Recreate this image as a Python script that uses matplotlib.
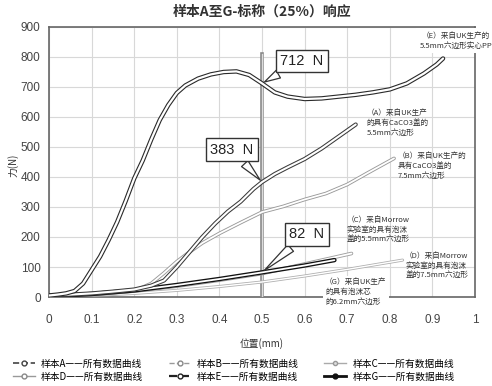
import matplotlib
matplotlib.use("Agg")
import matplotlib.pyplot as plt
from matplotlib.lines import Line2D

plt.rcParams['font.family'] = ['Noto Sans CJK SC', 'DejaVu Sans']

# 各样本的力-位置曲线
a_x = [0, 0.05, 0.1, 0.15, 0.2, 0.24, 0.27, 0.30, 0.33, 0.36, 0.39, 0.42, 0.45, 0.48, 0.50, 0.53, 0.56, 0.60, 0.64, 0.68, 0.72]
a_y = [5, 8, 12, 18, 25, 38, 55, 100, 150, 200, 245, 285, 318, 360, 383, 410, 432, 460, 495, 535, 575]

b_x = [0, 0.1, 0.2, 0.24, 0.27, 0.3, 0.33, 0.36, 0.4, 0.45, 0.5, 0.55, 0.6, 0.65, 0.7, 0.75, 0.81]
b_y = [3, 8, 20, 45, 80, 118, 150, 180, 212, 248, 283, 302, 325, 345, 375, 415, 462]

c_x = [0, 0.1, 0.2, 0.3, 0.4, 0.5, 0.6, 0.71]
c_y = [2, 8, 20, 36, 56, 78, 110, 145]

d_x = [0, 0.1, 0.2, 0.3, 0.4, 0.5, 0.6, 0.7, 0.83]
d_y = [2, 5, 12, 22, 35, 50, 70, 92, 123]

e_x = [0, 0.02, 0.04, 0.06, 0.08, 0.10, 0.12, 0.14, 0.16, 0.18, 0.20, 0.22, 0.24, 0.26, 0.28, 0.30,
       0.32, 0.35, 0.38, 0.41, 0.44, 0.47, 0.50, 0.53, 0.56, 0.60, 0.64, 0.68, 0.72, 0.76, 0.80,
       0.84, 0.88, 0.91, 0.925]
e_y = [5, 8, 12, 20, 45, 90, 135, 190, 250, 320, 395, 455, 525, 590, 640, 680,
       705, 728, 742, 750, 752, 740, 712, 682, 668, 660, 662, 668, 674, 682, 692,
       712, 745, 775, 795]

g_x = [0, 0.1, 0.2, 0.3, 0.4, 0.5, 0.6, 0.67]
g_y = [3, 10, 22, 40, 60, 82, 105, 123]

ref_x = 0.5
ref_top = 810

# 标注：文字，指向点，文字框位置
callouts = [
    ("712  N", (0.5, 712), (0.593, 787)),
    ("383  N", (0.5, 383), (0.429, 491)),
    ("82  N", (0.5, 82), (0.605, 209)),
]

curve_notes = [
    ("（A）来自UK生产\n的具有CaCO3盖的\n5.5mm六边形", 0.746, 580),
    ("（B）来自UK生产的\n具有CaCO3盖的\n7.5mm六边形", 0.819, 437),
    ("（C）来自Morrow\n实验室的具有泡沫\n盖的5.5mm六边形", 0.699, 223),
    ("（D）来自Morrow\n实验室的具有泡沫\n盖的7.5mm六边形", 0.836, 103),
]
note_e = "（E）来自UK生产的\n5.5mm六边形实心PP"
note_g = "（G）来自UK生产\n的具有泡沫芯\n的6.2mm六边形"

fig = plt.figure(figsize=(4.92, 3.86), dpi=100)
ax = fig.add_axes([49 / 492, 1 - 297 / 386, 426 / 492, 270 / 386])

def tube(x, y, edge, lw_out, lw_in, ls="-"):
    ax.plot(x, y, color=edge, lw=lw_out, ls=ls, solid_capstyle="round", zorder=4)
    ax.plot(x, y, color="white", lw=lw_in, solid_capstyle="round", zorder=4)

tube(d_x, d_y, "#b0b0b0", 2.2, 1.0)
tube(c_x, c_y, "#a0a0a0", 2.6, 1.3)
tube(b_x, b_y, "#9a9a9a", 2.6, 1.3)
tube(g_x, g_y, "#111111", 3.2, 1.3)
tube(a_x, a_y, "#3a3a3a", 3.0, 1.5)
tube(e_x, e_y, "#2a2a2a", 3.2, 1.6)

# 0.5mm 参考线
ax.plot([ref_x, ref_x], [0, ref_top], color="#888888", lw=2.6, zorder=3)
ax.plot([ref_x, ref_x], [0, ref_top], color="#dddddd", lw=1.0, zorder=3)

for txt, pt, pos in callouts:
    ax.annotate(txt, xy=pt, xytext=pos, ha="center", va="center", fontsize=10.5,
                family=["Liberation Sans", "DejaVu Sans"], color="#222222", zorder=6,
                bbox=dict(boxstyle="square,pad=0.3", fc="white", ec="#333333", lw=1.0),
                arrowprops=dict(arrowstyle="wedge,tail_width=0.6", fc="white", ec="#333333", lw=0.9))

for txt, x, y in curve_notes:
    ax.text(x, y, txt, fontsize=5.5, ha="left", va="center", color="#333333",
            linespacing=1.35, zorder=5)

ax.text(0.955, 855, note_e, fontsize=5.5, ha="center", va="center", color="#333333",
        linespacing=1.35, zorder=6, clip_on=False,
        bbox=dict(boxstyle="square,pad=0.5", fc="white", ec="none"))
ax.text(0.648, 17, note_g, fontsize=5.5, ha="left", va="center", color="#333333",
        linespacing=1.25, zorder=6, clip_on=False,
        bbox=dict(boxstyle="square,pad=0.3", fc="white", ec="none"))

ax.set_xlim(0, 1)
ax.set_ylim(0, 900)
ax.set_xticks([i / 10 for i in range(11)])
ax.set_xticklabels(["0"] + ["0.%d" % i for i in range(1, 10)] + ["1"])
ax.set_yticks(range(0, 901, 100))
ax.tick_params(length=0, labelsize=8.5, labelcolor="#444444")
ax.tick_params(axis="x", pad=12)
ax.tick_params(axis="y", pad=6)
for lab in ax.get_xticklabels() + ax.get_yticklabels():
    lab.set_family(["Liberation Sans", "DejaVu Sans"])
ax.grid(color="#d8d8d8", lw=0.8)
ax.set_axisbelow(True)
for s in ax.spines.values():
    s.set_color("#666666")
    s.set_linewidth(1.2)

fig.text(13 / 492, 1 - 165 / 386, "力(N)", fontsize=7, rotation=90, ha="center", va="center", color="#333333")
fig.text(262 / 492, 1 - 344 / 386, "位置(mm)", fontsize=7, ha="center", va="center", color="#333333")
fig.text(262 / 492, 1 - 12 / 386, "样本A至G-标称（25%）响应", fontsize=10, fontweight="bold",
         ha="center", va="center", color="#333333")

handles = [
    Line2D([], [], color="#444444", lw=1.2, ls="--", marker="o", ms=3.5, mfc="white", mec="#444444"),
    Line2D([], [], color="#999999", lw=1.0, ls="-", marker="o", ms=3.5, mfc="white", mec="#888888"),
    Line2D([], [], color="#999999", lw=1.0, ls="--", marker="o", ms=3.5, mfc="white", mec="#888888"),
    Line2D([], [], color="#222222", lw=1.6, ls="--", marker="o", ms=3.5, mfc="white", mec="#222222"),
    Line2D([], [], color="#aaaaaa", lw=1.0, ls="-", marker="o", ms=3, mfc="#dddddd", mec="#999999"),
    Line2D([], [], color="#111111", lw=2.0, ls="-", marker="o", ms=3.5, mfc="#111111", mec="#111111"),
]
labels = ["样本A——所有数据曲线", "样本D——所有数据曲线", "样本B——所有数据曲线",
          "样本E——所有数据曲线", "样本C——所有数据曲线", "样本G——所有数据曲线"]
fig.legend(handles, labels, loc="center", bbox_to_anchor=(0.475, 1 - 370 / 386), ncol=3,
           frameon=False, fontsize=7, handlelength=2.3, handletextpad=0.6,
           columnspacing=2.6, labelspacing=0.3, borderpad=0)

fig.savefig("out.png", dpi=100)
